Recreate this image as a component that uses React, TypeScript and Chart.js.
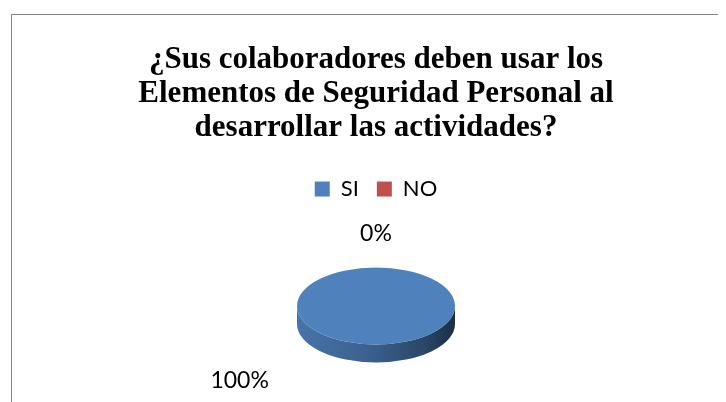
import React, { useEffect, useRef } from "react";
import { Chart, registerables } from "chart.js";

Chart.register(...registerables);

const TITLE_LINES = [
  "¿Sus colaboradores deben usar los",
  "Elementos de Seguridad Personal al",
  "desarrollar las actividades?",
];
const CATEGORIES = ["SI", "NO"];
const VALUES = [100, 0];
const PERCENT_LABELS = ["100%", "0%"];
const COLORS = ["#4F81BD", "#C0504D"];

const TILT = 0.487; // vertical squash of the pie top face
const DEPTH = 18; // px thickness of the pie side
// label placement: angle (deg, canvas convention) and distance in radii
const LABEL_PLACE = [
  { angle: 131.6, dist: 2.6 },
  { angle: -90, dist: 1.89 },
];

function shade(hex: string, f: number) {
  const n = parseInt(hex.slice(1), 16);
  const r = Math.round(((n >> 16) & 255) * f);
  const g = Math.round(((n >> 8) & 255) * f);
  const b = Math.round((n & 255) * f);
  return `rgb(${r},${g},${b})`;
}

const pie3d = {
  id: "pie3d",
  beforeDatasetsDraw(chart: any) {
    const ctx: CanvasRenderingContext2D = chart.ctx;
    const meta = chart.getDatasetMeta(0);
    meta.data.forEach((arc: any, i: number) => {
      const { x, y, outerRadius: r, startAngle, endAngle } = arc.getProps(
        ["x", "y", "outerRadius", "startAngle", "endAngle"],
        true
      );
      if (endAngle - startAngle <= 0) return;
      const ry = r * TILT;
      const base = COLORS[i % COLORS.length];
      for (let k = -1; k <= 1; k++) {
        const a0 = Math.max(startAngle, 2 * Math.PI * k);
        const a1 = Math.min(endAngle, Math.PI + 2 * Math.PI * k);
        if (a1 <= a0) continue;
        ctx.save();
        const g = ctx.createLinearGradient(x - r, 0, x + r, 0);
        g.addColorStop(0, shade(base, 0.9));
        g.addColorStop(0.45, shade(base, 0.75));
        g.addColorStop(0.8, shade(base, 0.55));
        g.addColorStop(1, shade(base, 0.36));
        ctx.fillStyle = g;
        ctx.beginPath();
        ctx.ellipse(x, y, r, ry, 0, a0, a1, false);
        ctx.lineTo(x + r * Math.cos(a1), y + ry * Math.sin(a1) + DEPTH);
        ctx.ellipse(x, y + DEPTH, r, ry, 0, a1, a0, true);
        ctx.closePath();
        ctx.fill();
        ctx.restore();
      }
    });
    const first = meta.data[0];
    const { x, y } = first.getProps(["x", "y"], true);
    ctx.save();
    ctx.translate(x, y);
    ctx.scale(1, TILT);
    ctx.translate(-x, -y);
  },
  afterDatasetsDraw(chart: any) {
    const ctx: CanvasRenderingContext2D = chart.ctx;
    ctx.restore();
    const meta = chart.getDatasetMeta(0);
    ctx.save();
    ctx.font = "23px Lato, 'Open Sans', sans-serif";
    ctx.fillStyle = "#000000";
    ctx.textAlign = "center";
    ctx.textBaseline = "middle";
    meta.data.forEach((arc: any, i: number) => {
      const { x, y, outerRadius: r } = arc.getProps(["x", "y", "outerRadius"], true);
      const p = LABEL_PLACE[i];
      const a = (p.angle * Math.PI) / 180;
      const lx = x + Math.cos(a) * r * p.dist;
      const ly = y + Math.sin(a) * r * p.dist * TILT;
      ctx.fillText(PERCENT_LABELS[i], lx, ly);
    });
    ctx.restore();
  },
};

export default function App() {
  const ref = useRef<HTMLCanvasElement>(null);
  useEffect(() => {
    document.documentElement.style.overflow = "hidden";
    document.body.style.overflow = "hidden";
    const canvas = ref.current!;
    const chart = new Chart(canvas, {
      type: "pie",
      data: {
        labels: CATEGORIES,
        datasets: [
          {
            data: VALUES,
            backgroundColor: COLORS,
            borderWidth: 0,
            radius: 79,
          },
        ],
      },
      options: {
        responsive: false,
        animation: false,
        devicePixelRatio: 1,
        layout: { padding: { left: 14, right: 0, top: 0, bottom: 0 } },
        plugins: {
          title: {
            display: true,
            text: TITLE_LINES,
            color: "#000000",
            font: {
              family: "'Liberation Serif', 'Times New Roman', serif",
              size: 31,
              weight: "bold",
              lineHeight: 1.097,
            },
            padding: { top: 28, bottom: 15 },
          },
          legend: {
            display: true,
            position: "top",
            labels: {
              color: "#000000",
              font: { family: "Lato, 'Open Sans', sans-serif", size: 22 },
              boxWidth: 15,
              boxHeight: 15,
              padding: 18,
            },
          },
          tooltip: { enabled: false },
        },
      },
      plugins: [pie3d],
    } as any);
    return () => chart.destroy();
  }, []);
  return (
    <div
      style={{
        marginLeft: 3,
        marginTop: 6,
        width: 715,
        height: 388,
        boxSizing: "border-box",
        borderTop: "1px solid #868686",
        borderLeft: "1px solid #868686",
        background: "#ffffff",
      }}
    >
      <canvas ref={ref} width={714} height={387} style={{ display: "block" }} />
    </div>
  );
}
